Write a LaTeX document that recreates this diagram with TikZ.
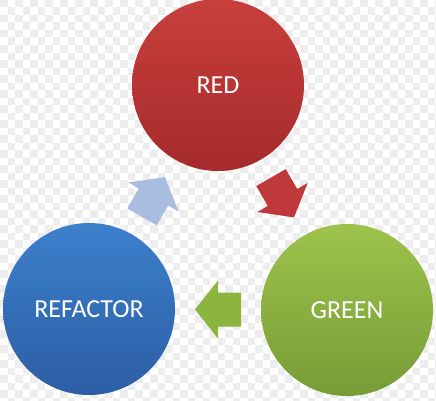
\documentclass[tikz,border=0pt]{standalone}
\usepackage{fontspec}
\setmainfont{Carlito}
\usepackage{tikz}
\usepackage{xcolor}
\usetikzlibrary{calc}

\definecolor{redtop}{HTML}{C83F3D}
\definecolor{redbot}{HTML}{A62A2B}
\definecolor{greentop}{HTML}{9DC34C}
\definecolor{greenbot}{HTML}{779C36}
\definecolor{bluetop}{HTML}{3C80CC}
\definecolor{bluebot}{HTML}{2C5EA5}
\definecolor{arrowred}{HTML}{C0393A}
\definecolor{arrowgreen}{HTML}{8CB53F}
\definecolor{arrowblue}{HTML}{A9BEDE}

\begin{document}
\begin{tikzpicture}[x=1pt,y=1pt,
    phase/.style={circle,minimum size=172pt,inner sep=0pt,text=white,
      font=\fontsize{26}{30}\selectfont}]
    \useasboundingbox (0,0) rectangle (436,400);
    \clip (0,0) rectangle (436,400);

    % checkered backdrop
    \foreach \i in {0,...,58}
      \foreach \j in {0,...,53} {
        \pgfmathtruncatemacro\odd{mod(\i+\j,2)}
        \ifnum\odd=0
          \fill[black!7] (7.5*\i,400-7.5*\j) rectangle ++(7.5,-7.5);
        \fi
      }

    % the three phases
    \node[phase,top color=redtop,bottom color=redbot] (red) at (218,315) {RED};
    \node[phase,top color=greentop,bottom color=greenbot] (green) at (347,90) {GREEN};
    \node[phase,top color=bluetop,bottom color=bluebot] (refactor) at (89,91) {REFACTOR};

    % block arrows halfway between the phases
    \foreach \from/\to/\ang/\col in {red/green/-60/arrowred,
        green/refactor/180/arrowgreen, refactor/red/60/arrowblue}
      \fill[\col,shift={($(\from)!0.5!(\to)$)},rotate=\ang]
        (-23,-17) -- (0,-17) -- (0,-29) -- (23,0) -- (0,29) -- (0,17) -- (-23,17) -- cycle;
\end{tikzpicture}
\end{document}
